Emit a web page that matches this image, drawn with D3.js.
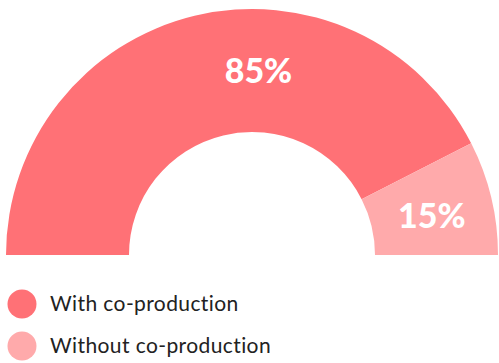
<!DOCTYPE html>
<html>
<head>
<meta charset="utf-8">
<script src="https://cdn.jsdelivr.net/npm/d3@7"></script>
<style>
  html, body { margin: 0; padding: 0; background: #fff; }
  svg { display: block; }
</style>
</head>
<body>
<svg id="chart" width="499" height="363"></svg>
<script>
// Share of projects with and without co-production
const categories = ["With co-production", "Without co-production"];
const values = [85, 15];
const valueLabels = ["85%", "15%"];
const colors = ["#ff7176", "#ffaaab"];

const svg = d3.select("#chart");
const cx = 252, cy = 255;
const outerR = 246, innerR = 123;

// Half-donut: angles run from -90° (left) to +90° (right)
const pie = d3.pie()
  .sort(null)
  .value(d => d)
  .startAngle(-Math.PI / 2)
  .endAngle(Math.PI / 2);

const arc = d3.arc().innerRadius(innerR).outerRadius(outerR);
const arcs = pie(values);

const g = svg.append("g").attr("transform", `translate(${cx},${cy})`);

g.selectAll("path.slice")
  .data(arcs)
  .join("path")
  .attr("class", "slice")
  .attr("d", arc)
  .attr("fill", (d, i) => colors[i]);

// Label placement: mid-radius; the large slice label sits near the top of the ring
const labelR = (innerR + outerR) / 2 - 0.5;
const labelAngle = d => {
  const mid = (d.startAngle + d.endAngle) / 2;
  return (d.endAngle - d.startAngle) > Math.PI / 2 ? 0.035 : mid + 0.02;
};

g.selectAll("text.value")
  .data(arcs)
  .join("text")
  .attr("class", "value")
  .attr("x", d => labelR * Math.sin(labelAngle(d)))
  .attr("y", d => -labelR * Math.cos(labelAngle(d)))
  .attr("dy", "0.36em")
  .attr("text-anchor", "middle")
  .attr("fill", "#fff")
  .style("font-family", "Lato, 'Open Sans', sans-serif")
  .style("font-weight", 900)
  .style("font-size", "34px")
  .text((d, i) => valueLabels[i]);

// Legend
const legend = svg.append("g").attr("transform", "translate(22,304)");
const rows = legend.selectAll("g")
  .data(categories)
  .join("g")
  .attr("transform", (d, i) => `translate(0,${i * 42})`);

rows.append("circle")
  .attr("r", 14.5)
  .attr("fill", (d, i) => colors[i]);

rows.append("text")
  .attr("x", 28)
  .attr("dy", "0.35em")
  .attr("fill", "#222")
  .style("font-family", "Lato, 'Open Sans', sans-serif")
  .style("font-size", "21px")
  .style("letter-spacing", "0.4px")
  .text(d => d);
</script>
</body>
</html>
